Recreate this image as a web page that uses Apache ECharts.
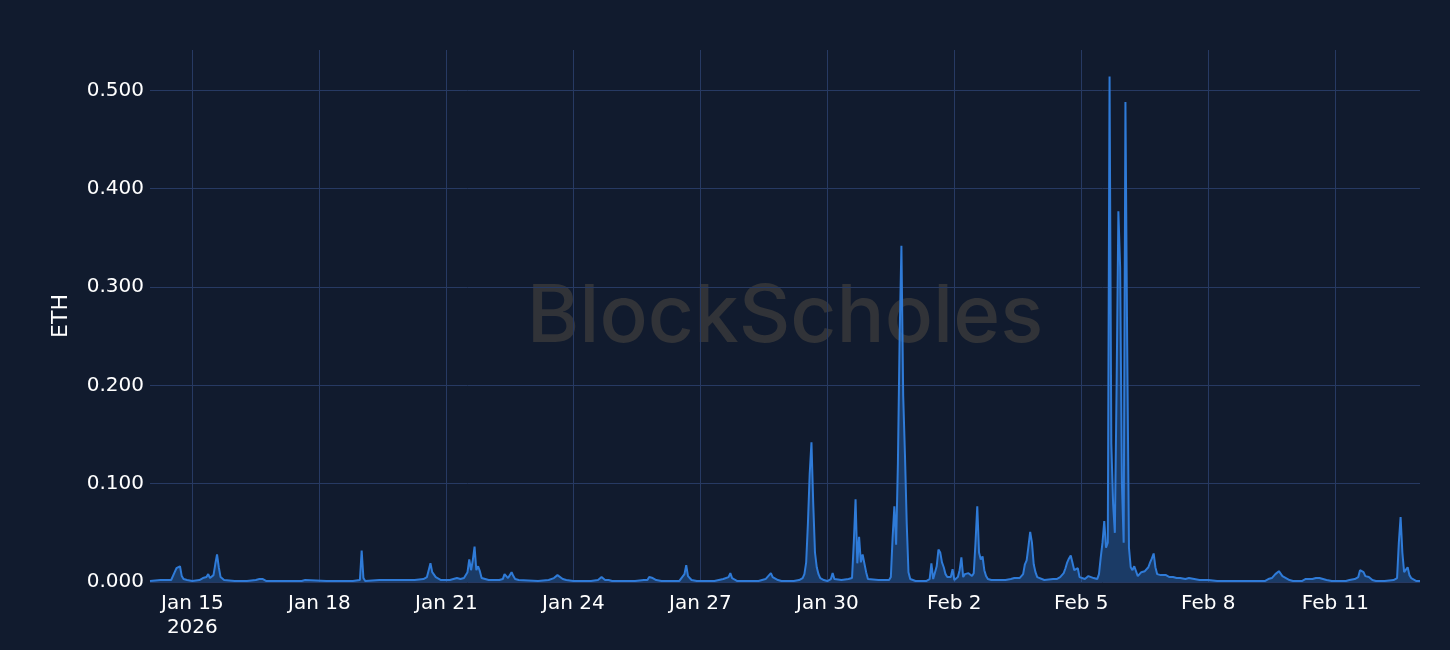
<!DOCTYPE html>
<html>
<head>
<meta charset="utf-8">
<script src="https://cdn.jsdelivr.net/npm/echarts@6/dist/echarts.min.js"></script>
<style>
html,body{margin:0;padding:0;background:#111b2e;}
#chart{width:1450px;height:650px;}
</style>
</head>
<body>
<div id="chart"></div>
<script>
// Start of the x range (local time) and data points as hours since start
const startDate = [2026, 0, 14];
const hoursSinceStart = [
  0,6,12,13,14,15,16,17,18,19,21,24,28,30,31,32,33,34,35,36,37,38,39,40,42,48,55,60,62,63,64,66,80,86,88,89,100,115,119,120,121,122,130,140,150,155,157,158,159,160,161,162,163,165,168,170,174,176,178,180,181,182,183,184,185,186,187,188,189,192,198,200,201,202,203,204,205,206,207,209,220,226,229,230,231,232,234,236,240,250,254,256,257,258,259,260,262,275,280,281,282,283,284,285,287,290,300,303,304,305,306,307,310,320,325,326,328,329,330,331,333,345,349,350,352,353,354,356,358,365,368,370,371,372,373,374,375,376,377,378,379,380,382,384,386,387,388,389,392,396,398,399,400,401,402,403,404,405,406,407,408,413,414,415,419,420,421,422,423,424,425,426,427,428,429,430,431,434,440,442,443,444,445,446,447,448,449,450,451,452,453,454,455,456,457,458,459,460,461,462,463,464,465,466,467,468,469,470,471,472,473,474,475,477,485,488,490,491,493,495,496,497,498,499,500,501,502,503,504,507,512,514,516,517,518,519,520,521,522,523,524,525,526,527,528,530,532,533,535,537,538,539,540,541,542,543,544,545,546,547,548,549,550,551,552,553,554,555,556,557,558,559,560,561,562,563,564,565,566,567,568,569,570,571,573,576,578,580,582,583,584,587,589,590,592,595,600,605,620,632,634,635,636,638,639,640,641,642,643,644,646,648,653,655,656,659,661,662,663,665,667,670,678,680,683,685,686,687,688,689,690,691,692,693,695,700,705,706,707,708,709,710,711,712,713,714,715,716,718,720
];
const ethValues = [
  0.001,0.002,0.002,0.004,0.010,0.014,0.015,0.016,0.006,0.003,0.002,0.001,0.002,0.004,0.006,0.005,0.008,0.004,0.004,0.007,0.018,0.028,0.015,0.005,0.002,0.001,0.001,0.002,0.003,0.005,0.003,0.001,0.001,0.001,0.002,0.001,0.001,0.001,0.002,0.032,0.004,0.001,0.002,0.002,0.002,0.003,0.005,0.012,0.019,0.010,0.008,0.005,0.003,0.002,0.002,0.002,0.004,0.003,0.004,0.010,0.023,0.012,0.022,0.036,0.012,0.016,0.011,0.004,0.002,0.002,0.002,0.003,0.008,0.008,0.004,0.006,0.010,0.006,0.003,0.002,0.001,0.002,0.004,0.006,0.007,0.005,0.003,0.002,0.001,0.001,0.002,0.005,0.003,0.002,0.004,0.002,0.001,0.001,0.002,0.004,0.002,0.005,0.006,0.004,0.002,0.001,0.001,0.008,0.017,0.006,0.004,0.002,0.001,0.001,0.003,0.003,0.005,0.009,0.004,0.003,0.001,0.001,0.003,0.003,0.009,0.005,0.004,0.002,0.001,0.001,0.002,0.004,0.008,0.020,0.060,0.110,0.142,0.080,0.030,0.015,0.008,0.004,0.002,0.001,0.003,0.009,0.003,0.001,0.002,0.003,0.004,0.040,0.084,0.019,0.046,0.020,0.028,0.026,0.010,0.003,0.002,0.002,0.004,0.002,0.002,0.005,0.045,0.077,0.038,0.120,0.250,0.342,0.190,0.130,0.060,0.010,0.003,0.001,0.001,0.003,0.019,0.003,0.005,0.016,0.033,0.030,0.020,0.015,0.008,0.005,0.003,0.005,0.013,0.002,0.001,0.005,0.012,0.025,0.005,0.008,0.006,0.009,0.011,0.006,0.009,0.040,0.077,0.030,0.023,0.026,0.012,0.006,0.003,0.002,0.002,0.003,0.004,0.003,0.004,0.008,0.018,0.022,0.036,0.051,0.040,0.018,0.010,0.005,0.003,0.002,0.003,0.003,0.005,0.007,0.009,0.014,0.020,0.024,0.027,0.028,0.012,0.010,0.014,0.005,0.003,0.003,0.006,0.004,0.004,0.003,0.008,0.025,0.040,0.062,0.035,0.040,0.514,0.140,0.080,0.050,0.200,0.377,0.320,0.100,0.040,0.488,0.240,0.035,0.015,0.012,0.016,0.018,0.006,0.008,0.010,0.010,0.011,0.012,0.015,0.020,0.024,0.029,0.015,0.008,0.007,0.007,0.005,0.005,0.004,0.003,0.004,0.003,0.004,0.003,0.003,0.002,0.002,0.001,0.001,0.001,0.003,0.002,0.004,0.008,0.010,0.011,0.009,0.006,0.005,0.004,0.002,0.001,0.001,0.003,0.002,0.003,0.004,0.005,0.004,0.003,0.002,0.001,0.001,0.002,0.003,0.005,0.012,0.014,0.010,0.006,0.006,0.005,0.004,0.002,0.001,0.001,0.002,0.003,0.004,0.040,0.066,0.030,0.010,0.012,0.015,0.007,0.004,0.002,0.001,0.001
];
const tickDates = [[2026,0,15],[2026,0,18],[2026,0,21],[2026,0,24],[2026,0,27],[2026,0,30],[2026,1,2],[2026,1,5],[2026,1,8],[2026,1,11]];
const tickLabels = ['Jan 15\n2026','Jan 18','Jan 21','Jan 24','Jan 27','Jan 30','Feb 2','Feb 5','Feb 8','Feb 11'];
const yTicks = [0, 0.1, 0.2, 0.3, 0.4, 0.5];
const yMax = 0.541;
const rangeHours = 720;
const yAxisTitle = 'ETH';
const watermarkText = 'BlockScholes';

const HOUR = 3600 * 1000;
const t0 = new Date(startDate[0], startDate[1], startDate[2]).getTime();
const seriesData = hoursSinceStart.map((h, i) => [t0 + h * HOUR, ethValues[i]]);
const tickTimes = tickDates.map(d => new Date(d[0], d[1], d[2]).getTime());
const labelMap = {};
tickTimes.forEach((t, i) => { labelMap[t] = tickLabels[i]; });

const FONT = 'DejaVu Sans';
const chart = echarts.init(document.getElementById('chart'), null, {renderer: 'canvas'});
chart.setOption({
  backgroundColor: '#111b2e',
  animation: false,
  textStyle: {fontFamily: FONT},
  graphic: [{
    type: 'text',
    z: -10,
    silent: true,
    style: {
      text: watermarkText,
      x: 785, y: 318,
      align: 'center', verticalAlign: 'middle',
      font: '500 80px Inter',
      fill: '#313338'
    }
  }],
  grid: {left: 150, right: 30, top: 50, bottom: 68},
  xAxis: {
    type: 'value',
    min: t0,
    max: t0 + rangeHours * HOUR,
    axisLine: {show: false},
    axisTick: {show: false, customValues: tickTimes},
    axisLabel: {
      customValues: tickTimes,
      formatter: v => labelMap[v] || '',
      color: '#ffffff',
      fontSize: 20,
      lineHeight: 24,
      margin: 10,
      fontFamily: FONT
    },
    splitLine: {show: true, lineStyle: {color: '#273a63', width: 1}}
  },
  yAxis: {
    type: 'value',
    min: 0,
    max: yMax,
    interval: 0.1,
    name: yAxisTitle,
    nameLocation: 'middle',
    nameGap: 78,
    nameRotate: 90,
    nameTextStyle: {color: '#ffffff', fontSize: 22, fontFamily: FONT},
    axisLine: {show: false},
    axisTick: {show: false},
    axisLabel: {
      color: '#ffffff',
      fontSize: 20,
      margin: 6,
      fontFamily: FONT,
      showMaxLabel: false,
      formatter: v => yTicks.some(t => Math.abs(t - v) < 1e-9) ? v.toFixed(3) : ''
    },
    splitLine: {show: true, showMaxLine: false, lineStyle: {color: '#273a63', width: 1}}
  },
  series: [{
    type: 'line',
    data: seriesData,
    showSymbol: false,
    symbol: 'none',
    lineStyle: {color: '#2f7bd8', width: 2},
    itemStyle: {color: '#2f7bd8'},
    areaStyle: {color: 'rgba(47,123,216,0.48)'},
    z: 5
  }]
});
</script>
</body>
</html>
